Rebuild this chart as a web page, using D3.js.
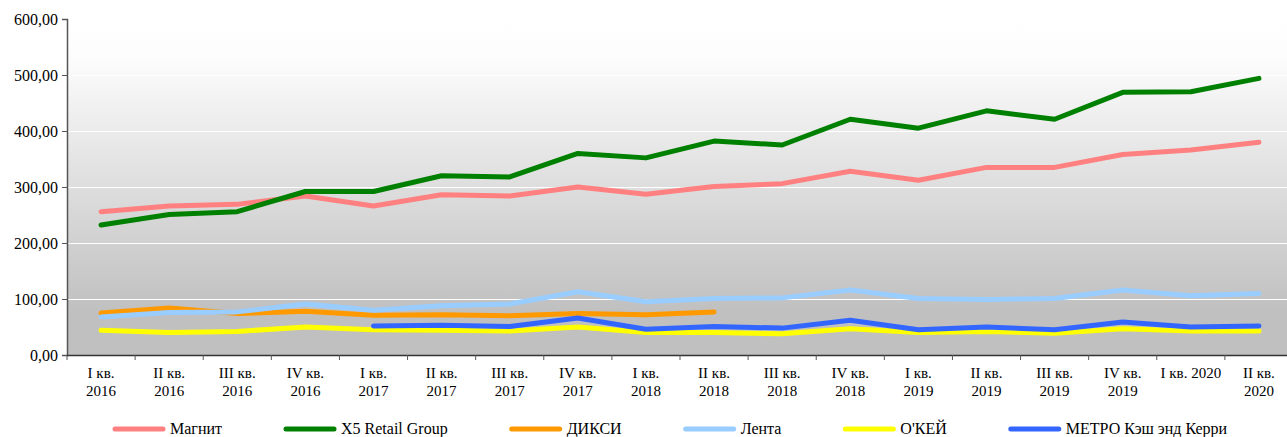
<!DOCTYPE html>
<html>
<head>
<meta charset="utf-8">
<script src="https://cdn.jsdelivr.net/npm/d3@7"></script>
<style>
  body { margin: 0; background: #ffffff; }
  svg text { font-family: "Liberation Serif", "Times New Roman", serif; }
</style>
</head>
<body>
<div class="chart"></div>
<script>
// Chart size
var width = 1287;
var height = 437;
var plot = { left: 67, right: 1293, top: 19, bottom: 355 };

// Categories (quarters)
var quarters = ["I кв.", "II кв.", "III кв.", "IV кв.", "I кв.", "II кв.", "III кв.", "IV кв.", "I кв.",
  "II кв.", "III кв.", "IV кв.", "I кв.", "II кв.", "III кв.", "IV кв.", "I кв. 2020", "II кв."];
var years = ["2016", "2016", "2016", "2016", "2017", "2017", "2017", "2017", "2018",
  "2018", "2018", "2018", "2019", "2019", "2019", "2019", "", "2020"];
var categories = quarters.map(function (q, i) { return q + "|" + years[i]; });

// Series values
var magnit = [256, 266, 269, 284, 266, 286, 284, 300, 287, 301, 306, 328, 312, 335, 335, 358, 366, 380];
var x5 = [232, 251, 256, 292, 292, 320, 318, 360, 352, 382, 375, 421, 405, 436, 421, 469, 470, 494];
var dixy = [75, 84, 74, 78, 71, 72, 70, 74, 72, 77, null, null, null, null, null, null, null, null];
var lenta = [68, 76, 77, 91, 80, 88, 91, 113, 95, 101, 102, 116, 101, 99, 101, 116, 106, 110];
var okey = [44, 40, 42, 50, 45, 44, 43, 50, 40, 40, 38, 47, 40, 42, 39, 47, 43, 43];
var metro = [null, null, null, null, 52, 53, 51, 66, 46, 51, 48, 62, 45, 50, 45, 59, 50, 52];

var seriesNames = ["Магнит", "X5 Retail Group", "ДИКСИ", "Лента", "О'КЕЙ", "МЕТРО Кэш энд Керри"];
var seriesValues = [magnit, x5, dixy, lenta, okey, metro];
var seriesColors = ["#ff8080", "#008000", "#ff9900", "#99ccff", "#ffff00", "#3366ff"];

var yTicks = [0, 100, 200, 300, 400, 500, 600];

var svg = d3.select(".chart")
  .append("svg")
  .attr("width", width)
  .attr("height", height)
  .style("display", "block");

// Scales
var x = d3.scaleBand()
  .domain(categories)
  .range([plot.left, plot.right]);

var y = d3.scaleLinear()
  .domain([0, 600])
  .range([plot.bottom, plot.top]);

// Plot area background gradient
var grad = svg.append("defs").append("linearGradient")
  .attr("id", "bg")
  .attr("x1", 0).attr("y1", 0).attr("x2", 0).attr("y2", 1);
grad.append("stop").attr("offset", "0").attr("stop-color", "#ffffff");
grad.append("stop").attr("offset", "0.12").attr("stop-color", "#fcfcfc");
grad.append("stop").attr("offset", "0.87").attr("stop-color", "#c0c0c0");
grad.append("stop").attr("offset", "1").attr("stop-color", "#c0c0c0");

svg.append("rect")
  .attr("x", plot.left)
  .attr("y", plot.top)
  .attr("width", plot.right - plot.left)
  .attr("height", plot.bottom - plot.top)
  .attr("fill", "url(#bg)");

// Gridlines
svg.append("g")
  .selectAll("line")
  .data(yTicks.slice(1))
  .enter().append("line")
  .attr("x1", plot.left)
  .attr("x2", plot.right)
  .attr("y1", function (d) { return y(d) + 0.5; })
  .attr("y2", function (d) { return y(d) + 0.5; })
  .attr("stroke", "#ffffff")
  .attr("stroke-width", 1.2);

// Y axis
var yAxis = svg.append("g")
  .attr("transform", "translate(" + plot.left + ",0)")
  .call(d3.axisLeft(y)
    .tickValues(yTicks)
    .tickSize(5)
    .tickPadding(4)
    .tickFormat(function (d) { return d3.format(".2f")(d).replace(".", ","); }));
yAxis.attr("font-family", null).attr("font-size", null);
yAxis.select(".domain").attr("stroke", "#555555").attr("stroke-width", 1.5);
yAxis.selectAll(".tick line").attr("stroke", "#555555");
yAxis.selectAll("text")
  .attr("fill", "#000000")
  .style("font-size", "16px");

// X axis: line, boundary ticks, two-line labels
var xAxis = svg.append("g");
xAxis.append("line")
  .attr("x1", plot.left)
  .attr("x2", plot.right)
  .attr("y1", plot.bottom + 0.5)
  .attr("y2", plot.bottom + 0.5)
  .attr("stroke", "#333333")
  .attr("stroke-width", 1.5);

xAxis.selectAll(".xtick")
  .data(categories)
  .enter().append("line")
  .attr("class", "xtick")
  .attr("x1", function (d) { return x(d); })
  .attr("x2", function (d) { return x(d); })
  .attr("y1", plot.bottom)
  .attr("y2", plot.bottom + 5)
  .attr("stroke", "#555555");

var xLabels = xAxis.selectAll(".xlabel")
  .data(categories)
  .enter().append("text")
  .attr("class", "xlabel")
  .attr("text-anchor", "middle")
  .style("font-size", "15px")
  .attr("fill", "#000000");

xLabels.append("tspan")
  .attr("x", function (d) { return x(d) + x.bandwidth() / 2; })
  .attr("y", 378)
  .text(function (d) { return d.split("|")[0]; });
xLabels.append("tspan")
  .attr("x", function (d) { return x(d) + x.bandwidth() / 2; })
  .attr("y", 396)
  .text(function (d) { return d.split("|")[1]; });

// Lines
var line = d3.line()
  .defined(function (d) { return d.v !== null; })
  .x(function (d) { return x(d.c) + x.bandwidth() / 2; })
  .y(function (d) { return y(d.v); });

svg.append("g")
  .selectAll("path")
  .data(seriesValues)
  .enter().append("path")
  .attr("d", function (vals) {
    return line(vals.map(function (v, i) { return { c: categories[i], v: v }; }));
  })
  .attr("fill", "none")
  .attr("stroke", function (d, i) { return seriesColors[i]; })
  .attr("stroke-width", 5)
  .attr("stroke-linejoin", "round")
  .attr("stroke-linecap", "round");

// Legend
var legend = svg.append("g").attr("transform", "translate(0,429)");
var lx = 113;
seriesNames.forEach(function (name, i) {
  var item = legend.append("g").attr("transform", "translate(" + lx + ",0)");
  item.append("line")
    .attr("x1", 2).attr("x2", 50)
    .attr("y1", 0).attr("y2", 0)
    .attr("stroke", seriesColors[i])
    .attr("stroke-width", 5)
    .attr("stroke-linecap", "round");
  var t = item.append("text")
    .attr("x", 57)
    .attr("y", 5)
    .style("font-size", "16px")
    .attr("fill", "#000000")
    .text(name);
  lx += 57 + t.node().getComputedTextLength() + 62;
});
</script>
</body>
</html>
